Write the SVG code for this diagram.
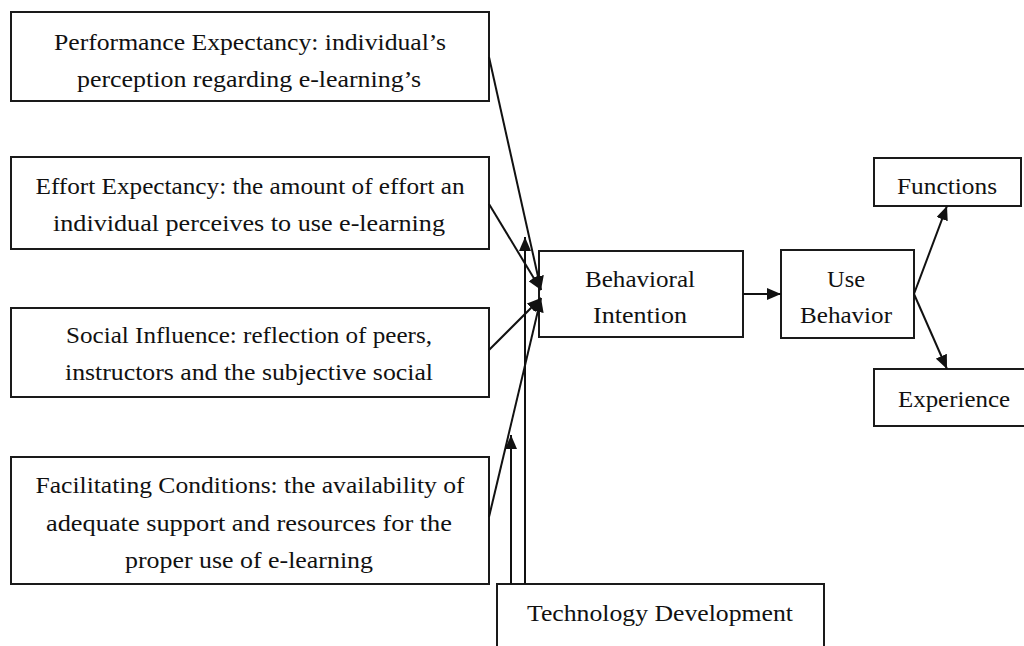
<svg xmlns="http://www.w3.org/2000/svg" width="1024" height="646" viewBox="0 0 1024 646">
<style>
.box{fill:#fff;stroke:#1a1a1a;stroke-width:2}
.t{font-family:"Liberation Serif","Times New Roman",serif;font-size:23px;fill:#111;text-anchor:middle}
.c{fill:none;stroke:#111;stroke-width:2}
</style>
<defs>
<marker id="ah" viewBox="0 0 14 12" refX="14" refY="6" markerWidth="14" markerHeight="12" markerUnits="userSpaceOnUse" orient="auto">
<path d="M0,0 L14,6 L0,12 Z" fill="#111"/>
</marker>
</defs>
<rect width="1024" height="646" fill="#fff"/>

<g id="performance">
<rect class="box" x="11" y="12" width="478" height="89"/>
<text class="t" x="250" y="50" textLength="392" lengthAdjust="spacingAndGlyphs">Performance Expectancy: individual’s</text>
<text class="t" x="249" y="87" textLength="344" lengthAdjust="spacingAndGlyphs">perception regarding e-learning’s</text>
</g>

<g id="effort">
<rect class="box" x="11" y="157" width="478" height="92"/>
<text class="t" x="250" y="194" textLength="429" lengthAdjust="spacingAndGlyphs">Effort Expectancy: the amount of effort an</text>
<text class="t" x="249" y="231" textLength="392" lengthAdjust="spacingAndGlyphs">individual perceives to use e-learning</text>
</g>

<g id="social">
<rect class="box" x="11" y="308" width="478" height="89"/>
<text class="t" x="249" y="343" textLength="366" lengthAdjust="spacingAndGlyphs">Social Influence: reflection of peers,</text>
<text class="t" x="249" y="380" textLength="368" lengthAdjust="spacingAndGlyphs">instructors and the subjective social</text>
</g>

<g id="facilitating">
<rect class="box" x="11" y="457" width="478" height="127"/>
<text class="t" x="250" y="493" textLength="429" lengthAdjust="spacingAndGlyphs">Facilitating Conditions: the availability of</text>
<text class="t" x="249" y="531" textLength="406" lengthAdjust="spacingAndGlyphs">adequate support and resources for the</text>
<text class="t" x="249" y="568" textLength="248" lengthAdjust="spacingAndGlyphs">proper use of e-learning</text>
</g>

<g id="behavioral-intention">
<rect class="box" x="539" y="251" width="204" height="86"/>
<text class="t" x="640" y="287" textLength="110" lengthAdjust="spacingAndGlyphs">Behavioral</text>
<text class="t" x="640" y="323" textLength="94" lengthAdjust="spacingAndGlyphs">Intention</text>
</g>

<g id="use-behavior">
<rect class="box" x="781" y="250" width="133" height="88"/>
<text class="t" x="846" y="287" textLength="38" lengthAdjust="spacingAndGlyphs">Use</text>
<text class="t" x="846" y="323" textLength="92" lengthAdjust="spacingAndGlyphs">Behavior</text>
</g>

<g id="functions">
<rect class="box" x="874" y="158" width="147" height="48"/>
<text class="t" x="947" y="194" textLength="100" lengthAdjust="spacingAndGlyphs">Functions</text>
</g>

<g id="experience">
<rect class="box" x="874" y="369" width="160" height="57"/>
<text class="t" x="954" y="407" textLength="112" lengthAdjust="spacingAndGlyphs">Experience</text>
</g>

<g id="technology-development">
<rect class="box" x="497" y="584" width="327" height="80"/>
<text class="t" x="660" y="621" textLength="266" lengthAdjust="spacingAndGlyphs">Technology Development</text>
</g>

<g id="connectors">
<line class="c" x1="489" y1="57" x2="541" y2="290" marker-end="url(#ah)"/>
<line class="c" x1="489" y1="204" x2="541" y2="290" marker-end="url(#ah)"/>
<line class="c" x1="489" y1="350" x2="541" y2="298" marker-end="url(#ah)"/>
<line class="c" x1="489" y1="517" x2="541" y2="298" marker-end="url(#ah)"/>
<line class="c" x1="525" y1="584" x2="525" y2="237" marker-end="url(#ah)"/>
<line class="c" x1="511" y1="584" x2="511" y2="435" marker-end="url(#ah)"/>
<line class="c" x1="743" y1="294" x2="781" y2="294" marker-end="url(#ah)"/>
<line class="c" x1="914" y1="294" x2="947" y2="206" marker-end="url(#ah)"/>
<line class="c" x1="914" y1="294" x2="947" y2="369" marker-end="url(#ah)"/>
</g>
</svg>
